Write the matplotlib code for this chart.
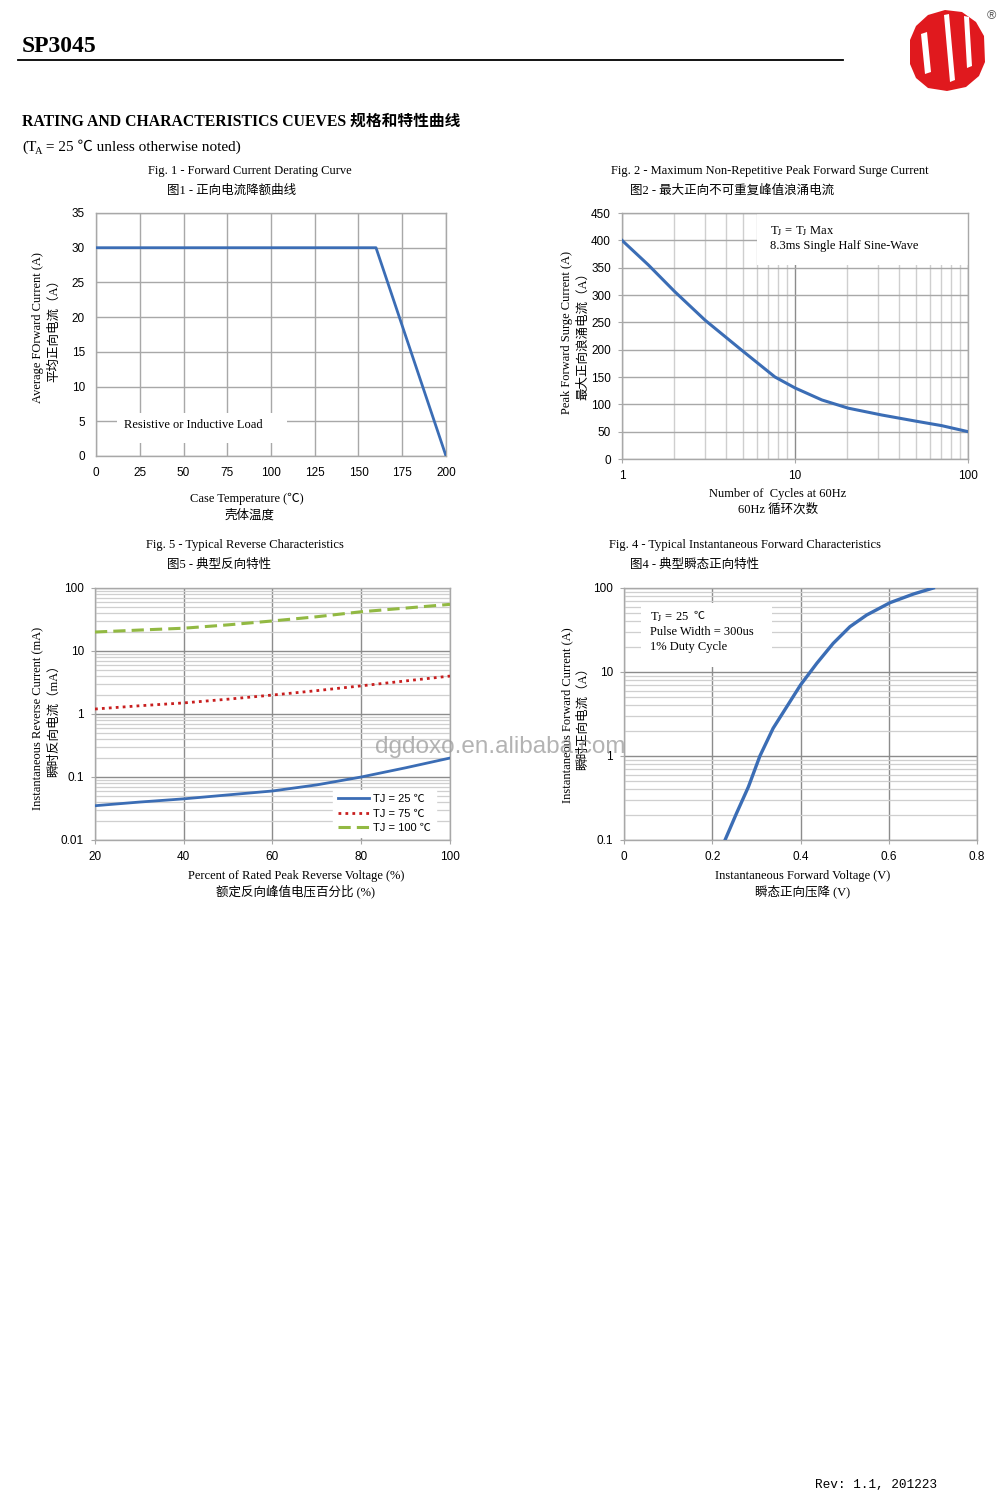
import numpy as np
import matplotlib
matplotlib.use("Agg")
import matplotlib.pyplot as plt
from matplotlib.patches import Rectangle, Polygon

W, H = 1000, 1495
SERIF = ['Liberation Serif', 'Noto Sans CJK SC', 'DejaVu Sans']
SANS = ['Liberation Sans', 'Noto Sans CJK SC', 'DejaVu Sans']
plt.rcParams['font.family'] = SERIF
plt.rcParams['mathtext.fontset'] = 'stix'

# ---------------- data ----------------
# Fig 1 - derating
f1_temp = [0, 160, 200]
f1_current = [30, 30, 0]
f1_xticks = [0, 25, 50, 75, 100, 125, 150, 175, 200]
f1_yticks = [0, 5, 10, 15, 20, 25, 30, 35]

# Fig 2 - surge current
f2_cycles = [1, 1.42, 2.02, 3.02, 4.92, 7.66, 10, 14.3, 20.3, 31.7, 49.4, 70.5, 100]
f2_current = [400, 355, 306, 254, 199, 150, 130, 108, 93, 80.5, 69.5, 61, 50]
f2_yticks = [0, 50, 100, 150, 200, 250, 300, 350, 400, 450]

# Fig 5 - reverse characteristics
f5_percent = [20, 30, 40, 50, 60, 70, 80, 90, 100]
f5_tj25 = [0.035, 0.040, 0.045, 0.052, 0.060, 0.075, 0.10, 0.14, 0.20]
f5_tj75 = [1.2, 1.35, 1.5, 1.72, 2.0, 2.35, 2.8, 3.35, 4.0]
f5_tj100 = [20, 21.5, 23, 26, 30, 35, 42, 48, 55]
f5_labels = ['TJ = 25 ℃', 'TJ = 75 ℃', 'TJ = 100 ℃']
f5_yticks = [0.01, 0.1, 1, 10, 100]
f5_yticklabels = ['0.01', '0.1', '1', '10', '100']

# Fig 4 - forward characteristics
f4_voltage = [0.229, 0.255, 0.282, 0.308, 0.338, 0.369, 0.400, 0.437, 0.474,
              0.512, 0.550, 0.603, 0.656, 0.701]
f4_current = [0.1, 0.208, 0.43, 1.0, 2.14, 3.87, 7.0, 12.7, 21.9,
              34.6, 47.7, 66.9, 84.8, 100]
f4_yticks = [0.1, 1, 10, 100]
f4_yticklabels = ['0.1', '1', '10', '100']

BLUE = '#3b6db5'
RED = '#c81e1e'
GREEN = '#92b943'
GRID = '#a8a8a8'
GRID_MINOR = '#cfcfcf'

fig = plt.figure(figsize=(W / 100, H / 100), dpi=100)


def ax_at(x0, y0, x1, y1):
    return fig.add_axes([x0 / W, 1 - y1 / H, (x1 - x0) / W, (y1 - y0) / H])


def T(x, y, s, size=9, ha='left', va='center', family=SERIF, **kw):
    fig.text(x / W, 1 - y / H, s, size=size, ha=ha, va=va, family=family, **kw)


def style(ax):
    for sp in ax.spines.values():
        sp.set_color(GRID)
        sp.set_linewidth(1.0)
    ax.tick_params(which='both', length=3, color=GRID, labelsize=8.5, pad=5)
    ax.tick_params(which='minor', length=0)
    for lab in ax.get_xticklabels() + ax.get_yticklabels():
        lab.set_family(SANS)
    ax.set_axisbelow(True)


# ---------------- header ----------------
T(22, 47, 'SP3045', size=17, weight='bold')
over = fig.add_axes([0, 0, 1, 1], zorder=-5)
over.set_xlim(0, W)
over.set_ylim(H, 0)
over.axis('off')
over.plot([18, 843], [60, 60], color='black', lw=1.3)
# logo
over.add_patch(Polygon([(910, 40), (916, 26), (928, 15), (945, 10), (962, 12),
                        (976, 22), (984, 36), (985, 62), (979, 76), (966, 87),
                        (947, 91), (928, 88), (916, 78), (910, 64)], closed=True,
                       facecolor='#e0191e', edgecolor='none'))
over.add_patch(Polygon([(921, 34), (927, 32), (931, 72), (925, 74)], closed=True,
                       facecolor='white', edgecolor='none'))
over.add_patch(Polygon([(944, 15), (949, 14), (955, 80), (950, 82)], closed=True,
                       facecolor='white', edgecolor='none'))
over.add_patch(Polygon([(964, 16), (969, 17), (972, 66), (967, 68)], closed=True,
                       facecolor='white', edgecolor='none'))
T(991, 16, '®', size=9, ha='center', family=SANS, color='#555555')

T(22, 122, 'RATING AND CHARACTERISTICS CUEVES 规格和特性曲线', size=11.3, weight='bold')
T(22, 147, '(T', size=11)
T(35, 151, 'A', size=7.5)
T(42, 147, ' = 25 ℃ unless otherwise noted)', size=11)

# ---------------- Fig 1 ----------------
ax1 = ax_at(96, 213, 446, 456)
ax1.plot(f1_temp, f1_current, color=BLUE, lw=2.0, zorder=3)
ax1.set_xlim(0, 200)
ax1.set_ylim(0, 35)
ax1.set_xticks(f1_xticks)
ax1.set_yticks(f1_yticks)
ax1.grid(True, color=GRID, lw=1.0)
style(ax1)
ax1.tick_params(length=0, pad=8)
ax1.add_patch(Rectangle((12, 1.9), 97, 4.3, facecolor='white', edgecolor='none', zorder=2))
ax1.text(16, 4.4, 'Resistive or Inductive Load', size=9, va='center', zorder=4, family=SERIF)

T(250, 171, 'Fig. 1 - Forward Current Derating Curve', size=9, ha='center')
T(167, 191, '图1 - 正向电流降额曲线', size=9)
T(38, 328, 'Average FOrward Current (A)', size=9, ha='center', rotation=90)
T(54, 328, '平均正向电流（A）', size=9, ha='center', rotation=90)
T(247, 499, 'Case Temperature (℃)', size=9, ha='center')
T(250, 515, '壳体温度', size=9, ha='center')

# ---------------- Fig 2 ----------------
ax2 = ax_at(622, 213, 968, 459)
ax2.plot(f2_cycles, f2_current, color=BLUE, lw=2.2, zorder=3)
ax2.set_xscale('log')
ax2.set_xlim(1, 100)
ax2.set_ylim(0, 450)
ax2.set_yticks(f2_yticks)
ax2.set_xticks([1, 10, 100])
ax2.set_xticklabels(['1', '10', '100'])
ax2.grid(True, which='major', color='#8c8c8c', lw=1.0)
ax2.grid(True, which='minor', axis='x', color=GRID_MINOR, lw=1.0)
ax2.grid(True, which='major', axis='y', color=GRID, lw=1.0)
style(ax2)
ax2.add_patch(Rectangle((0.39, 0.79), 0.61, 0.21, transform=ax2.transAxes,
                        facecolor='white', edgecolor='none', zorder=2))
T(770, 231, r'T$_\mathrm{J}$ = T$_\mathrm{J}$ Max', size=9)
T(770, 246, '8.3ms Single Half Sine-Wave', size=9)

T(770, 171, 'Fig. 2 - Maximum Non-Repetitive Peak Forward Surge Current', size=9, ha='center')
T(630, 191, '图2 - 最大正向不可重复峰值浪涌电流', size=9)
T(567, 333, 'Peak Forward Surge Current (A)', size=9, ha='center', rotation=90)
T(583, 333, '最大正向浪涌电流（A）', size=9, ha='center', rotation=90)
T(778, 494, 'Number of  Cycles at 60Hz', size=9, ha='center')
T(778, 509, '60Hz 循环次数', size=9, ha='center')

# ---------------- Fig 5 ----------------
ax5 = ax_at(95, 588, 450, 840)
ax5.plot(f5_percent, f5_tj25, color=BLUE, lw=2.0, ls='-', label=f5_labels[0], zorder=3)
ax5.plot(f5_percent, f5_tj75, color=RED, lw=2.0, ls=(0, (1, 1.5)), label=f5_labels[1], zorder=3)
ax5.plot(f5_percent, f5_tj100, color=GREEN, lw=2.2, ls=(0, (4, 2)), label=f5_labels[2], zorder=3)
ax5.set_yscale('log')
ax5.set_xlim(20, 100)
ax5.set_ylim(0.01, 100)
ax5.set_xticks([20, 40, 60, 80, 100])
ax5.set_yticks(f5_yticks)
ax5.set_yticklabels(f5_yticklabels)
ax5.grid(True, which='major', color='#8c8c8c', lw=1.0)
ax5.grid(True, which='minor', axis='y', color=GRID_MINOR, lw=0.9)
style(ax5)
leg = ax5.legend(loc='lower right', bbox_to_anchor=(0.975, -0.012), frameon=True,
                 fancybox=False, edgecolor='white', framealpha=1,
                 handlelength=2.8, handletextpad=0.4, labelspacing=0.4,
                 borderpad=0.4, prop={'family': SANS, 'size': 8})

T(146, 545, 'Fig. 5 - Typical Reverse Characteristics', size=9)
T(167, 565, '图5 - 典型反向特性', size=9)
T(38, 718, 'Instantaneous Reverse Current (mA)', size=9, ha='center', rotation=90)
T(54, 718, '瞬时反向电流（mA）', size=9, ha='center', rotation=90)
T(296, 876, 'Percent of Rated Peak Reverse Voltage (%)', size=9, ha='center')
T(296, 891, '额定反向峰值电压百分比 (%)', size=9, ha='center')

# ---------------- Fig 4 ----------------
ax4 = ax_at(624, 588, 977, 840)
ax4.plot(f4_voltage, f4_current, color=BLUE, lw=2.4, zorder=3)
ax4.set_yscale('log')
ax4.set_xlim(0, 0.8)
ax4.set_ylim(0.1, 100)
ax4.set_xticks([0, 0.2, 0.4, 0.6, 0.8])
ax4.set_xticklabels(['0', '0.2', '0.4', '0.6', '0.8'])
ax4.set_yticks(f4_yticks)
ax4.set_yticklabels(f4_yticklabels)
ax4.grid(True, which='major', color='#8c8c8c', lw=1.0)
ax4.grid(True, which='minor', axis='y', color=GRID_MINOR, lw=0.9)
style(ax4)
ax4.add_patch(Rectangle((0.0385, 11.5), 0.2965, 54.5, facecolor='white',
                        edgecolor='none', zorder=2))
T(650, 617, r'T$_\mathrm{J}$ = 25', size=9)
T(693, 616, '℃', size=8, family=['Noto Sans CJK SC'])
T(650, 632, 'Pulse Width = 300us', size=9)
T(650, 647, '1% Duty Cycle', size=9)

T(609, 545, 'Fig. 4 - Typical Instantaneous Forward Characteristics', size=9)
T(630, 565, '图4 - 典型瞬态正向特性', size=9)
T(567, 715, 'Instantaneous Forward Current (A)', size=9, ha='center', rotation=90)
T(583, 715, '瞬时正向电流（A）', size=9, ha='center', rotation=90)
T(803, 876, 'Instantaneous Forward Voltage (V)', size=9, ha='center')
T(803, 891, '瞬态正向压降 (V)', size=9, ha='center')

# watermark
T(500, 747, 'dgdoxo.en.alibaba.com', size=17.5, ha='center', family=SANS,
  color='#9a9a9a', alpha=0.75, zorder=10)

# footer
T(876, 1485, 'Rev: 1.1, 201223', size=9.2, ha='center',
  family=['Liberation Mono', 'DejaVu Sans Mono'])

fig.savefig('out.png', dpi=100, facecolor='white')
